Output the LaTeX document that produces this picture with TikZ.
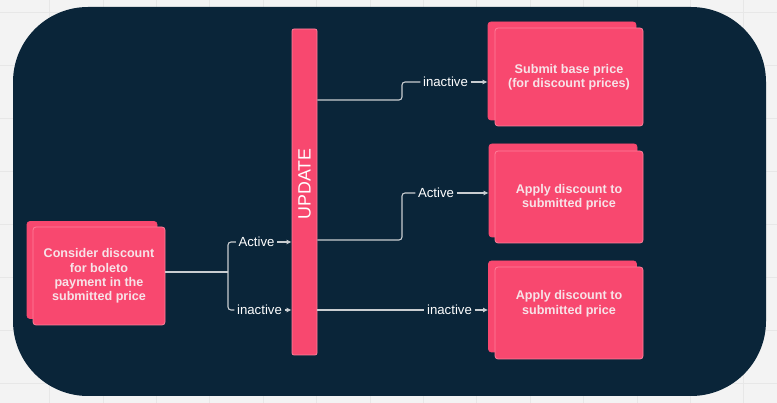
\documentclass[tikz,border=0pt]{standalone}
\usepackage{fontspec}
\setmainfont{Liberation Sans}
\usetikzlibrary{arrows.meta,positioning}
\definecolor{panel}{HTML}{0A2539}
\definecolor{cardpink}{HTML}{F8486F}
\definecolor{cardedge}{HTML}{FF7F9A}
\definecolor{cardtext}{HTML}{F7E3E8}
\definecolor{wirecol}{HTML}{C9CDD1}
\definecolor{paper}{HTML}{F3F3F3}
\definecolor{gridcol}{HTML}{E7E7E7}
\tikzset{
  card/.style={draw=cardedge,fill=cardpink,rounded corners=3pt,line width=0.8pt,
    minimum width=148pt,minimum height=92pt,align=center,text=cardtext,
    font=\fontsize{12.6}{14.4}\selectfont\bfseries},
  cardback/.style={card,draw=cardpink},
  lbl/.style={text=white,inner sep=2.5pt,font=\fontsize{13.2}{15}\selectfont},
  wire/.style={draw=wirecol,line width=1.1pt},
  arr/.style={wire,-{Latex[length=5pt,width=5pt]}}
}
\begin{document}
\begin{tikzpicture}[x=1pt,y=-1pt]
        \useasboundingbox (0,0) rectangle (777,403);
        %background and grid
        \fill[paper] (0,0) rectangle (777,403);
        \foreach \gx in {0,...,14} \draw[gridcol,line width=0.8pt] (49.5+53.4*\gx,0) -- (49.5+53.4*\gx,403);
        \foreach \gy in {0,...,7} \draw[gridcol,line width=0.8pt] (0,12+53*\gy) -- (777,12+53*\gy);
        %panel
        \fill[panel,rounded corners=75pt] (13,7) rectangle (766,396);
        %left card
        \node[cardback,minimum width=130pt,minimum height=97pt] (considerback) at (92,270) {};
        \node[card,minimum width=132pt,minimum height=98pt] (consider) at (99,276)
             {Consider discount\\for boleto\\payment in the\\submitted price};
        %update bar
        \node[card,minimum width=25pt,minimum height=326pt,rounded corners=2pt] (update) at (304.5,192) {};
        \node[rotate=90,text=white,font=\fontsize{17.8}{19}\selectfont] (updtxt) at (304.5,184) {UPDATE};
        %right cards
        \node[cardback,minimum height=98pt] (submitback) at (562,71) {};
        \node[card,minimum height=98pt] (submit) at (569,77) {Submit base price\\(for discount prices)};
        \node[cardback,minimum height=93pt] (applyAback) at (563,190.5) {};
        \node[card] (applyA) at (569,197) {Apply discount to\\submitted price};
        \node[cardback,minimum height=91pt] (applyBback) at (562.5,306.5) {};
        \node[card] (applyB) at (569,313) {Apply discount to\\submitted price\\[7pt]};
        %labels
        \coordinate (fork) at (228,272);
        \node[lbl] (actL) at (256.5,242) {Active};
        \node[lbl] (inL) at (259.5,310) {inactive};
        \node[lbl] (inR1) at (445.5,82) {inactive};
        \node[lbl] (actR) at (436,193) {Active};
        \node[lbl] (inR2) at (449.5,310) {inactive};
        %connectors left
        \draw[wire] (consider.east |- fork) -- (fork);
        \draw[wire,rounded corners=3pt] (fork) |- (actL.west);
        \draw[wire,rounded corners=3pt] (fork) |- (inL.west);
        \draw[arr] (actL.east) -- (actL.east -| update.west);
        \draw[arr] (inL.east) -- (inL.east -| update.west);
        %connectors right
        \draw[wire,rounded corners=3pt] (update.east |- 0,100) -| (402,91) |- (inR1.west);
        \draw[wire,rounded corners=3pt] (update.east |- 0,240) -| (402,210) |- (actR.west);
        \draw[wire] (update.east |- inR2) -- (inR2.west);
        \draw[arr] (inR1.east) -- (inR1.east -| submitback.west);
        \draw[arr] (actR.east) -- (actR.east -| applyAback.west);
        \draw[arr] (inR2.east) -- (inR2.east -| applyBback.west);
\end{tikzpicture}
\end{document}
